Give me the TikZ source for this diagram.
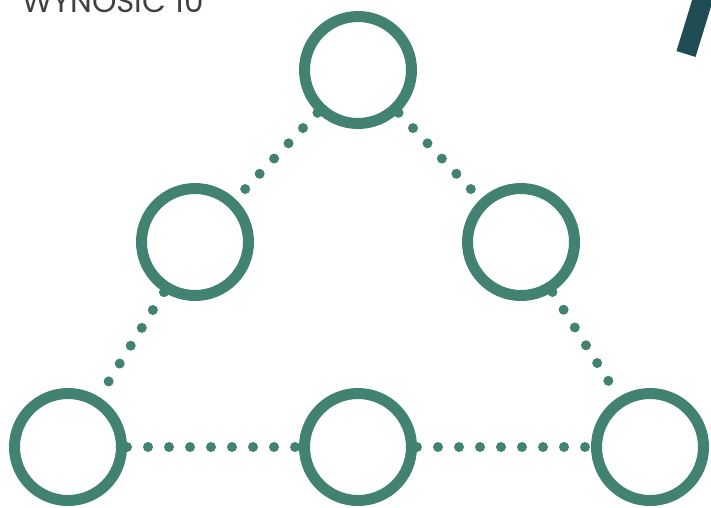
\documentclass[tikz,border=0pt]{standalone}
\usepackage{fontspec}
\setmainfont{Poppins}
\usepackage{xcolor}
\definecolor{ringgreen}{RGB}{66,130,115}
\definecolor{bardark}{RGB}{32,76,84}
\begin{document}
\begin{tikzpicture}[x=1pt,y=-1pt]
\tikzset{ring/.style={draw=ringgreen, circle, line width=11pt, minimum size=107pt, inner sep=0pt, outer sep=5.5pt},
  dots/.style={ringgreen, line width=10pt, line cap=round, dash pattern=on 0pt off 21pt}}
\useasboundingbox (0,0) rectangle (711,507);
\node[anchor=base west, text=black!75, font=\fontsize{31}{34}\selectfont, inner sep=0pt](title) at (22,12){WYNOSIC 10};
\draw[bardark, line width=20pt] (705,-8) -- (686,54);
\node[ring](top) at (358,70){};
\node[ring](lm) at (195,242){};
\node[ring](rm) at (521,242){};
\node[ring](bl) at (68,447){};
\node[ring](bm) at (358,447){};
\node[ring](br) at (650,447){};
\draw[dots] (top) -- (lm);
\draw[dots] (lm) -- (bl);
\draw[dots] (top) -- (rm);
\draw[dots] (rm) -- (br);
\draw[dots] (bl) -- (bm);
\draw[dots] (bm) -- (br);
\end{tikzpicture}
\end{document}
